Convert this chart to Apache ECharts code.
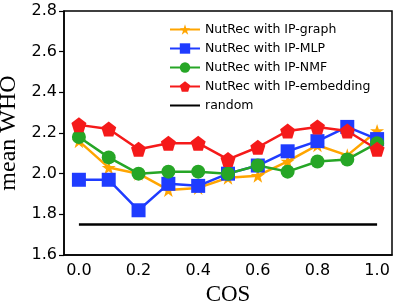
<!DOCTYPE html>
<html><head><meta charset="utf-8">
<script src="https://cdn.jsdelivr.net/npm/echarts@6/dist/echarts.min.js"></script>
<style>html,body{margin:0;padding:0;background:#fff}#c{width:399px;height:308px}</style>
</head><body><div id="c"></div>
<script>
const categories = ['0.0','0.1','0.2','0.3','0.4','0.5','0.6','0.7','0.8','0.9','1.0'];
const ipGraph = [2.16,2.03,2.00,1.92,1.93,1.98,1.99,2.06,2.14,2.09,2.21];
const ipMLP = [1.97,1.97,1.82,1.95,1.94,2.00,2.04,2.11,2.16,2.23,2.17];
const ipNMF = [2.18,2.08,2.00,2.01,2.01,2.00,2.04,2.01,2.06,2.07,2.15];
const ipEmb = [2.24,2.22,2.12,2.15,2.15,2.07,2.13,2.21,2.23,2.21,2.12];
const randomVal = [1.75,1.75,1.75,1.75,1.75,1.75,1.75,1.75,1.75,1.75,1.75];
const names = ['NutRec with IP-graph','NutRec with IP-MLP','NutRec with IP-NMF','NutRec with IP-embedding','random'];

const STAR = 'path://M50,0 L61.8,35.3 L98.9,35.3 L68.9,57.1 L80.3,92.7 L50,70.9 L19.7,92.7 L31.1,57.1 L1.1,35.3 L38.2,35.3 Z';
const PENT = 'path://M50,0 L97.6,34.5 L79.4,90.5 L20.6,90.5 L2.4,34.5 Z';
const tickFont = {fontFamily:'DejaVu Sans', fontSize:16, color:'#000'};

function ser(name, data, color, symbol, size){
  return {name, type:'line', data, symbol, symbolSize:size, color,
    lineStyle:{width:2.5,color}, itemStyle:{color}, emphasis:{disabled:true}};
}
const chart = echarts.init(document.getElementById('c'), null, {renderer:'canvas'});
chart.setOption({
  animation:false,
  grid:{left:64,top:11,right:7,bottom:53,outerBoundsMode:'none',containLabel:false,
    show:true,borderColor:'#000',borderWidth:1.5,backgroundColor:'transparent'},
  legend:{orient:'vertical',left:164,top:18,itemWidth:30,itemHeight:13,itemGap:6,
    textStyle:{fontFamily:'DejaVu Sans',fontSize:12.5,color:'#000'},
    data:[names[0],names[1],names[2],names[3],{name:names[4],itemStyle:{opacity:0}}]},
  xAxis:{type:'category',data:categories,boundaryGap:true,
    name:'COS',nameLocation:'middle',nameGap:27,
    nameTextStyle:{fontFamily:'Liberation Serif',fontSize:23,color:'#000'},
    axisLine:{lineStyle:{color:'#000',width:1.5}},
    axisTick:{alignWithLabel:true,interval:0,length:5,lineStyle:{color:'#000',width:1.2}},
    axisLabel:Object.assign({interval:1,margin:8},tickFont),
    splitLine:{show:false}},
  yAxis:{type:'value',min:1.6,max:2.8,interval:0.2,
    name:'mean WHO',nameLocation:'middle',nameGap:36,
    nameTextStyle:{fontFamily:'Liberation Serif',fontSize:24,color:'#000'},
    axisLine:{show:true,lineStyle:{color:'#000',width:1.5}},
    axisTick:{show:true,length:5,lineStyle:{color:'#000',width:1.2}},
    axisLabel:Object.assign({margin:7,formatter:v=>v.toFixed(1)},tickFont),
    splitLine:{show:false}},
  series:[
    ser(names[0], ipGraph, '#FFA500', STAR, 14),
    ser(names[1], ipMLP, '#1f3cff', 'rect', 14),
    ser(names[2], ipNMF, '#26a626', 'circle', 14),
    ser(names[3], ipEmb, '#f51a1a', PENT, 15),
    {name:names[4], type:'line', data:randomVal, symbol:'none', color:'#000',
     lineStyle:{width:2.5,color:'#000'}, emphasis:{disabled:true}}
  ]
});
</script></body></html>
